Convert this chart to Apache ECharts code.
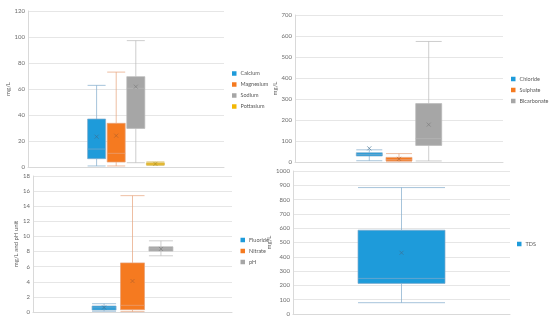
<!DOCTYPE html>
<html><head><meta charset="utf-8">
<script src="https://cdn.jsdelivr.net/npm/echarts@6/dist/echarts.min.js"></script>
<style>html,body{margin:0;padding:0;background:#fff}#c{width:550px;height:323px}</style>
</head><body><div id="c"></div>
<script>
// ---- data: [min, Q1, median, Q3, max] and means ----
const cationNames = ['Calcium', 'Magnesium', 'Sodium', 'Pottasium'];
const calcium = [0.8, 6.4, 13.8, 36.9, 62.8];
const magnesium = [0.8, 3.8, 10.5, 33.6, 73];
const sodium = [3.3, 29.7, 60.5, 69.5, 97.2];
const potassium = [1.2, 1.6, 2.4, 3.2, 4.0];
const cationMeans = [23.3, 24.1, 61.8, 2.4];

const anionNames = ['Chloride', 'Sulphate', 'Bicarbonate'];
const chloride = [6, 28.6, 36, 44, 58];
const sulphate = [1, 5, 12, 22, 40];
const bicarbonate = [5, 79, 111, 278, 574];
const anionMeans = [65, 15, 178];

const otherNames = ['Fluoride', 'Nitrate', 'pH'];
const fluoride = [0.1, 0.26, 0.55, 0.79, 1.1];
const nitrate = [0.05, 0.3, 0.88, 6.5, 15.4];
const ph = [7.44, 8.06, 8.35, 8.63, 9.42];
const otherMeans = [0.6, 4.1, 8.35];

const tdsNames = ['TDS'];
const tds = [79, 214, 249, 586, 884];
const tdsMeans = [428];

const yTicks1 = [0, 120, 20];
const yTicks2 = [0, 700, 100];
const yTicks3 = [0, 18, 2];
const yTicks4 = [0, 1000, 100];

// ---- styling ----
const fills = ['#1E9BDA', '#F57A20', '#A6A6A6', '#F2B705'];
const lines = ['#7FAACB', '#E6A27A', '#B8B8B8', '#D9BC5A'];
const meanCol = ['#3F6E90', '#B0602A', '#7A7A7A', '#A88A20'];
const FONT = 'Lato';

const panels = [
  {names: cationNames, boxes: [calcium, magnesium, sodium, potassium], means: cationMeans, ticks: yTicks1,
   grid: {left: 28, top: 11, width: 196, height: 156}, nCat: 10, first: 3, boxW: 18,
   yName: 'mg/L', nameGap: 15, legend: {left: 232, top: 70}},
  {names: anionNames, boxes: [chloride, sulphate, bicarbonate], means: anionMeans, ticks: yTicks2,
   grid: {left: 295, top: 15, width: 208, height: 147}, nCat: 7, first: 2, boxW: 26,
   yName: 'mg/L', nameGap: 16, legend: {left: 511, top: 75.5}},
  {names: otherNames, boxes: [fluoride, nitrate, ph], means: otherMeans, ticks: yTicks3,
   grid: {left: 33, top: 176, width: 199, height: 136}, nCat: 7, first: 2, boxW: 24,
   yName: 'mg/L and pH unit', nameGap: 13, legend: {left: 240.5, top: 236.5}},
  {names: tdsNames, boxes: [tds], means: tdsMeans, ticks: yTicks4,
   grid: {left: 293, top: 171, width: 217, height: 143}, nCat: 1, first: 0, boxW: 87,
   yName: 'mg/L', nameGap: 19, legend: {left: 517, top: 240.5}}
];

const grid = [], xAxis = [], yAxis = [], series = [], legend = [];
panels.forEach((p, gi) => {
  grid.push(p.grid);
  yAxis.push({
    type: 'value', gridIndex: gi, min: p.ticks[0], max: p.ticks[1], interval: p.ticks[2],
    name: p.yName, nameLocation: 'middle', nameGap: p.nameGap, nameRotate: 90,
    nameTextStyle: {fontSize: 6, color: '#595959', fontFamily: FONT},
    axisLine: {show: true, lineStyle: {color: '#D9D9D9', width: 1}},
    axisTick: {show: false},
    axisLabel: {fontSize: 6, color: '#6B6B6B', fontFamily: FONT, margin: 3, formatter: v => String(v)},
    splitLine: {lineStyle: {color: '#E6E6E6', width: 1}}
  });
  const cats = [];
  for (let k = 0; k < p.nCat; k++) cats.push('c' + k);
  p.names.forEach((nm, si) => {
    const xi = xAxis.length;
    xAxis.push({
      type: 'category', gridIndex: gi, data: cats, show: si === 0,
      axisLine: {show: true, lineStyle: {color: '#D9D9D9'}},
      axisTick: {show: false}, axisLabel: {show: false}, splitLine: {show: false}
    });
    const ci = p.first + si;
    const b = p.boxes[si];
    series.push({
      type: 'boxplot', name: nm, xAxisIndex: xi, yAxisIndex: gi,
      boxWidth: [p.boxW, p.boxW],
      encode: {x: 0, y: [1, 2, 3, 4, 5]},
      data: [[ci, b[0], b[1], b[2], b[3], b[4]]],
      itemStyle: {color: fills[si], borderColor: lines[si], borderWidth: 0.7},
      emphasis: {disabled: true},
      animation: false
    });
    series.push({
      type: 'scatter', name: nm + ' mean', xAxisIndex: xi, yAxisIndex: gi,
      data: [[ci, p.means[si]]],
      symbol: 'path://M0,0L10,10M10,0L0,10', symbolSize: 4,
      itemStyle: {color: 'none', borderColor: meanCol[si], borderWidth: 0.8},
      silent: true, animation: false, z: 5
    });
  });
  legend.push({
    data: p.names.map((n, i) => ({name: n, icon: 'rect',
      itemStyle: {color: fills[i], borderWidth: 0, opacity: 1}})),
    orient: 'vertical',
    left: p.legend.left, top: p.legend.top, padding: 0,
    itemWidth: 4.5, itemHeight: 4.5, itemGap: 4,
    textStyle: {fontSize: 5.5, color: '#595959', fontFamily: FONT, lineHeight: 7, padding: [0, 0, 0, -1]},
    selectedMode: false
  });
});

const chart = echarts.init(document.getElementById('c'), null, {renderer: 'canvas'});
chart.setOption({animation: false, backgroundColor: '#fff', grid, xAxis, yAxis, series, legend});
</script></body></html>
